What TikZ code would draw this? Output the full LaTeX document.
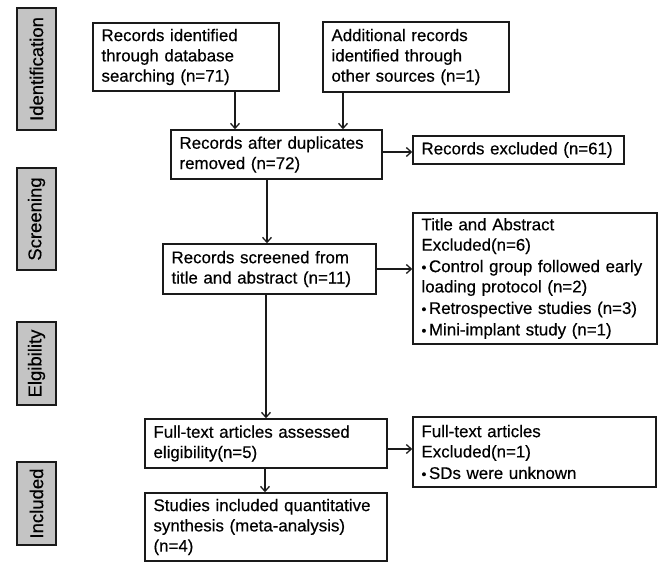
\documentclass[tikz,border=0pt]{standalone}
\usepackage{fontspec}
\setmainfont{Liberation Sans}[FakeBold=0.4,AutoFakeBold=0.4]
\usetikzlibrary{arrows.meta}
\definecolor{sidegray}{HTML}{C4C4C4}
\definecolor{linecol}{HTML}{1A1A1A}
\newcommand{\mybul}{\kern1.2pt{\fontsize{14}{14}\selectfont •}\kern2.6pt}
\begin{document}
\begin{tikzpicture}[x=1pt,y=-1pt,
  box/.style={draw=linecol, line width=1.5pt, inner xsep=8.5pt, inner ysep=0pt,
    align=left, font=\fontsize{16.9}{20.3}\selectfont, anchor=center},
  side/.style={draw=linecol, line width=1.3pt, fill=sidegray, rotate=90,
    minimum height=39pt, inner sep=0pt, font=\fontsize{18.5}{20}\selectfont},
  arr/.style={draw=linecol, line width=1.3pt, -{Straight Barb[length=5pt,width=9pt,line width=1.3pt]}}]
\useasboundingbox (0,0) rectangle (661,562);

% side labels
\node[side, minimum width=122pt] (sid) at (36.5,69) {Identification};
\node[side, minimum width=102pt] (ssc) at (36.5,219) {Screening};
\node[side, minimum width=83pt] (sel) at (36.5,363.5) {Elgibility};
\node[side, minimum width=83pt] (sin) at (36.5,503.5) {Included};

% boxes
\node[box, text width=169pt, minimum height=68pt] (b1) at (186,57)
  {Records identified\\through database\\searching (n=71)};
\node[box, text width=169pt, minimum height=70pt] (b2) at (416,57)
  {Additional records\\identified through\\other sources (n=1)};
\node[box, text width=194pt, minimum height=49pt] (b3) at (276.5,154.5)
  {Records after duplicates\\removed (n=72)};
\node[box, text width=194pt, minimum height=28pt] (b4) at (518.5,150)
  {Records excluded (n=61)};
\node[box, text width=196pt, minimum height=50pt] (b5) at (269.5,269)
  {Records screened from\\title and abstract (n=11)};
\node[box, text width=227pt, minimum height=131pt] (b6) at (535,278.5)
  {Title and Abstract\\Excluded(n=6)\\\mybul Control group followed early\\loading protocol (n=2)\\\mybul Retrospective studies (n=3)\\\mybul Mini-implant study (n=1)};
\node[box, text width=225pt, minimum height=49pt] (b7) at (266,443.5)
  {Full-text articles assessed\\eligibility(n=5)};
\node[box, text width=226pt, minimum height=70pt] (b8) at (534.5,452)
  {Full-text articles\\Excluded(n=1)\\\mybul SDs were unknown};
\node[box, text width=225pt, minimum height=68pt] (b9) at (266,527)
  {Studies included quantitative\\synthesis (meta-analysis)\\(n=4)};

% guide coordinates for connector positions
\coordinate (x1) at (235,0);
\coordinate (x2) at (343,0);
\coordinate (x3) at (267,0);
\coordinate (x5) at (266,0);
\coordinate (x7) at (265,0);
\coordinate (y3) at (0,152);
\coordinate (y7) at (0,449);

% connectors
\draw[arr] (b1.south -| x1) -- (b3.north -| x1);
\draw[arr] (b2.south -| x2) -- (b3.north -| x2);
\draw[arr] (b3.east |- y3) -- (b4.west |- y3);
\draw[arr] (b3.south -| x3) -- (b5.north -| x3);
\draw[arr] (b5.east) -- (b5.east -| b6.west);
\draw[arr] (b5.south -| x5) -- (b7.north -| x5);
\draw[arr] (b7.east |- y7) -- (b8.west |- y7);
\draw[arr] (b7.south -| x7) -- (b9.north -| x7);
\end{tikzpicture}
\end{document}
